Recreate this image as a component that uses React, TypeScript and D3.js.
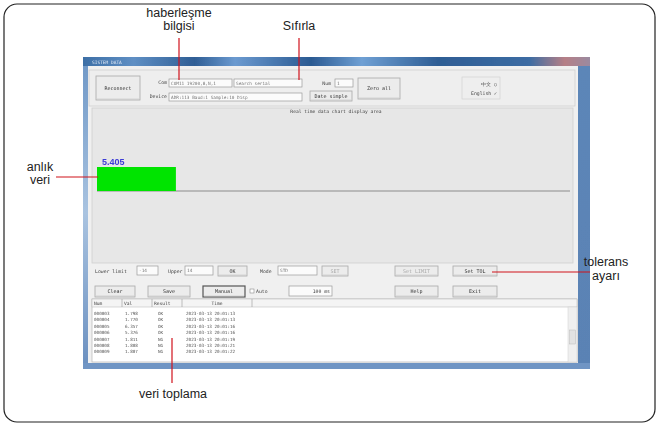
import React from "react";
import * as d3 from "d3";

// ---- data ----
const currentValue = [5.405];
const valueMax = 32.4;
const tableColumns = ["Num", "Val", "Result", "Time"];
const rowNums = ["000003", "000004", "000005", "000006", "000007", "000008", "000009"];
const rowVals = ["1.798", "1.770", "6.357", "5.376", "1.811", "1.808", "1.807"];
const rowResults = ["OK", "OK", "OK", "OK", "NG", "NG", "NG"];
const rowTimes = [
  "2023-03-13 20:01:13",
  "2023-03-13 20:01:13",
  "2023-03-13 20:01:16",
  "2023-03-13 20:01:16",
  "2023-03-13 20:01:19",
  "2023-03-13 20:01:21",
  "2023-03-13 20:01:22",
];
const annotationTexts = {
  comm: ["haberleşme", "bilgisi"],
  reset: ["Sıfırla"],
  live: ["anlık", "veri"],
  tol: ["tolerans", "ayarı"],
  collect: ["veri toplama"],
};

const RED = "#d0121b";
const UI_FONT = "'DejaVu Sans Mono', monospace";

function Btn({ x, y, w, h, label, bold = false, disabled = false }: any) {
  return (
    <g>
      <rect x={x} y={y} width={w} height={h} fill="#ececec" stroke={bold ? "#555" : "#a9a9a9"} strokeWidth={bold ? 1.2 : 0.8} />
      <line x1={x + 1} y1={y + h - 1} x2={x + w - 1} y2={y + h - 1} stroke="#c8c8c8" strokeWidth={0.6} />
      <text x={x + w / 2} y={y + h / 2 + 1.8} textAnchor="middle" fontSize={5} fontFamily={UI_FONT} fill={disabled ? "#aaa" : "#333"}>
        {label}
      </text>
    </g>
  );
}

function Field({ x, y, w, h, text = "" }: any) {
  return (
    <g>
      <rect x={x} y={y} width={w} height={h} fill="#fbfbfb" stroke="#9a9a9a" strokeWidth={0.7} />
      <text x={x + 2} y={y + h / 2 + 1.8} fontSize={4.4} fontFamily={UI_FONT} fill="#777">
        {text}
      </text>
    </g>
  );
}

function Label({ x, y, text, anchor = "start", size = 4.8, fill = "#444" }: any) {
  return (
    <text x={x} y={y} textAnchor={anchor} fontSize={size} fontFamily={UI_FONT} fill={fill}>
      {text}
    </text>
  );
}

export default function App() {
  const W = 659;
  const H = 426;

  // chart
  const chartLeft = 97;
  const chartRight = 570;
  const baseline = 191;
  const x = d3.scaleLinear().domain([0, valueMax]).range([chartLeft, chartRight]);
  const barH = 24;

  // table
  const tx = 92;
  const tRight = 577;
  const headerY = 301;
  const rowTop = 310;
  const rowH = 6.4;
  const colX = [92, 122, 152, 182, 252];
  const rowY = d3.scaleBand<number>().domain(d3.range(rowNums.length)).range([rowTop, rowTop + rowH * rowNums.length]);

  const annoFont = "'Liberation Sans', Arial, sans-serif";

  return (
    <svg width={W} height={H} style={{ position: "absolute", left: 0, top: 0, background: "#fff" }}>
      <defs>
        <linearGradient id="title" x1="0" x2="1" y1="0" y2="0">
          <stop offset="0" stopColor="#3d6fa6" />
          <stop offset="0.1" stopColor="#5f8fc4" />
          <stop offset="0.22" stopColor="#2f5e95" />
          <stop offset="0.3" stopColor="#6b9ad0" />
          <stop offset="0.45" stopColor="#2b5a92" />
          <stop offset="0.55" stopColor="#6fa0d4" />
          <stop offset="0.7" stopColor="#2e5d94" />
          <stop offset="0.88" stopColor="#3c6ca3" />
          <stop offset="0.95" stopColor="#b67f86" />
          <stop offset="1" stopColor="#9a8aa0" />
        </linearGradient>
        <linearGradient id="leftframe" x1="0" x2="0" y1="0" y2="1">
          <stop offset="0" stopColor="#6e97c6" />
          <stop offset="0.5" stopColor="#a9c3e0" />
          <stop offset="1" stopColor="#6a8fbf" />
        </linearGradient>
        <linearGradient id="rightframe" x1="0" x2="0" y1="0" y2="1">
          <stop offset="0" stopColor="#5c86b8" />
          <stop offset="1" stopColor="#5a82b4" />
        </linearGradient>
        <filter id="soft">
          <feGaussianBlur stdDeviation="0.35" />
        </filter>
      </defs>

      {/* outer rounded border */}
      <rect x={4} y={4} width={651} height={418} rx={13} ry={13} fill="#fff" stroke="#222" strokeWidth={1.2} />

      {/* window screenshot */}
      <g filter="url(#soft)">
        <rect x={83} y={57} width={507} height={312} fill="url(#leftframe)" />
        <rect x={83} y={57} width={507} height={9} fill="url(#title)" />
        <text x={92} y={63.5} fontSize={4.5} fontFamily={UI_FONT} fill="#dfe8f5">SISTEM DATA</text>
        <rect x={578} y={66} width={12} height={303} fill="url(#rightframe)" />
        <rect x={88} y={66} width={490} height={297} fill="#f0f0f0" />
        <rect x={83} y={363} width={507} height={6} fill="#6f95c4" />

        {/* top panel */}
        <rect x={89} y={70} width={486} height={36} fill="#eeeeee" stroke="#cfcfcf" strokeWidth={0.8} />
        <Btn x={96} y={76} w={44} h={24} label="Reconnect" />
        <Label x={167} y={84} text="Com" anchor="end" />
        <Field x={169} y={79} w={63} h={8} text="COM11 19200,8,N,1" />
        <Field x={234} y={79} w={68} h={8} text="Search serial" />
        <Label x={167} y={98} text="Device" anchor="end" />
        <Field x={169} y={93} w={133} h={8} text="ADR:113 Baud:1 Sample:10 Disp" />
        <Label x={331} y={85} text="Num" anchor="end" />
        <Field x={335} y={79} w={18} h={8} text="1" />
        <Btn x={310} y={91} w={42} h={10} label="Date simple" />
        <Btn x={358} y={78} w={42} h={21} label="Zero all" />
        <rect x={462} y={77} width={38} height={22} fill="none" stroke="#d2d2d2" strokeWidth={0.7} />
        <Label x={497} y={86} text="中文 ○" anchor="end" />
        <Label x={497} y={95} text="English ✓" anchor="end" />

        {/* chart panel */}
        <rect x={92} y={108} width={481} height={155} fill="#e7e7e7" stroke="#d0d0d0" strokeWidth={0.8} />
        <Label x={336} y={113} text="Real time data chart display area" anchor="middle" size={4.6} />
        <line x1={chartLeft} x2={chartRight} y1={baseline} y2={baseline} stroke="#8c8c8c" strokeWidth={1.2} />
        {currentValue.map((v, i) => (
          <g key={i}>
            <rect x={x(0)} y={baseline - barH} width={x(v) - x(0)} height={barH} fill="#00e400" />
            <text x={x(0) + 5} y={baseline - barH - 2.5} fontSize={9} fontFamily="'Liberation Sans Narrow', 'Liberation Sans', sans-serif" fontWeight="bold" fill="#3b3bd6">
              {v.toFixed(3)}
            </text>
          </g>
        ))}

        {/* control row 1 */}
        <Label x={95} y={273} text="Lower limit" />
        <Field x={137} y={266} w={21} h={9} text="-14" />
        <Label x={168} y={273} text="Upper" />
        <Field x={185} y={266} w={28} h={9} text="14" />
        <Btn x={218} y={266} w={29} h={10} label="OK" />
        <Label x={260} y={273} text="Mode" />
        <Field x={278} y={266} w={39} h={9} text="STD" />
        <Btn x={322} y={266} w={26} h={10} label="SET" disabled />
        <Btn x={395} y={266} w={43} h={10} label="Set LIMIT" disabled />
        <Btn x={453} y={266} w={44} h={10} label="Set TOL" />

        {/* control row 2 */}
        <Btn x={95} y={286} w={40} h={11} label="Clear" />
        <Btn x={148} y={286} w={42} h={11} label="Save" />
        <Btn x={203} y={286} w={42} h={11} label="Manual" bold />
        <rect x={250} y={289} width={4} height={4} fill="#fff" stroke="#777" strokeWidth={0.5} />
        <Label x={256} y={293} text="Auto" />
        <Field x={289} y={286} w={43} h={10} text="" />
        <Label x={330} y={293} text="100 ms" anchor="end" />
        <Btn x={395} y={286} w={43} h={11} label="Help" />
        <Btn x={453} y={286} w={44} h={11} label="Exit" />

        {/* table */}
        <rect x={tx} y={headerY - 2} width={tRight - tx} height={362 - headerY + 2} fill="#fff" stroke="#b5b5b5" strokeWidth={0.7} />
        <rect x={tx} y={headerY - 2} width={tRight - tx} height={8} fill="#f4f4f4" stroke="#b5b5b5" strokeWidth={0.5} />
        {tableColumns.map((c, i) => (
          <g key={c}>
            <line x1={colX[i + 1]} x2={colX[i + 1]} y1={headerY - 2} y2={headerY + 6} stroke="#999" strokeWidth={0.6} />
            <Label x={i === 3 ? (colX[i] + colX[i + 1]) / 2 : colX[i] + 2} y={headerY + 4} text={c} anchor={i === 3 ? "middle" : "start"} size={4.6} />
          </g>
        ))}
        <rect x={568} y={headerY + 6} width={9} height={362 - headerY - 6} fill="#efefef" stroke="#cfcfcf" strokeWidth={0.5} />
        <rect x={569.5} y={330} width={6} height={14} fill="#e2e2e2" stroke="#bbb" strokeWidth={0.5} />
        {rowNums.map((n, i) => {
          const y0 = (rowY(i) as number) + rowH - 1.5;
          return (
            <g key={n} fontSize={4.3} fontFamily={UI_FONT} fill="#555">
              <text x={colX[0] + 2} y={y0}>{n}</text>
              <text x={colX[1] + 3} y={y0}>{rowVals[i]}</text>
              <text x={colX[2] + 6} y={y0}>{rowResults[i]}</text>
              <text x={colX[3] + 4} y={y0}>{rowTimes[i]}</text>
            </g>
          );
        })}
      </g>

      {/* annotations */}
      <g fontFamily={annoFont} fontSize={12.5} fill="#222" textAnchor="middle">
        <text x={179} y={17}>{annotationTexts.comm[0]}</text>
        <text x={179} y={29.5}>{annotationTexts.comm[1]}</text>
        <text x={299} y={30}>{annotationTexts.reset[0]}</text>
        <text x={40} y={171}>{annotationTexts.live[0]}</text>
        <text x={40} y={184}>{annotationTexts.live[1]}</text>
        <text x={606} y={266}>{annotationTexts.tol[0]}</text>
        <text x={606} y={280}>{annotationTexts.tol[1]}</text>
        <text x={173} y={398}>{annotationTexts.collect[0]}</text>
      </g>
      <g stroke={RED} strokeWidth={1.2}>
        <line x1={179} x2={179} y1={38} y2={80} />
        <line x1={299} x2={299} y1={38} y2={80} />
        <line x1={56} x2={98} y1={177} y2={177} />
        <line x1={492} x2={590} y1={272} y2={272} />
        <line x1={172} x2={172} y1={338} y2={383} />
      </g>
    </svg>
  );
}
